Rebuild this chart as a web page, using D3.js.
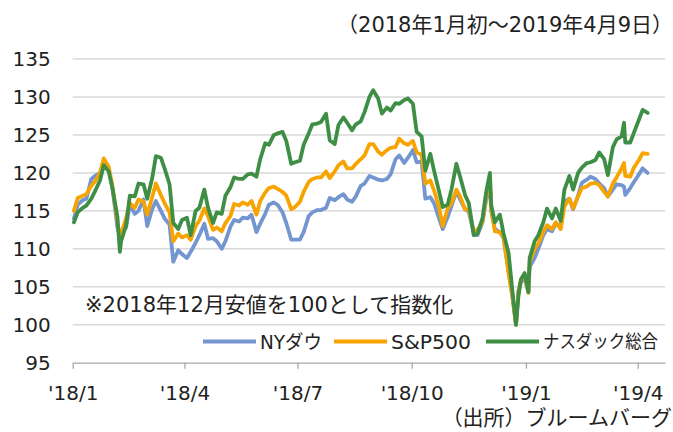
<!DOCTYPE html>
<html>
<head>
<meta charset="utf-8">
<script src="https://cdn.jsdelivr.net/npm/d3@7"></script>
<style>
  body { margin: 0; background: #fff; }
  svg { display: block; }
  text { font-family: "DejaVu Sans", "Noto Sans CJK JP", sans-serif; fill: #222; }
</style>
</head>
<body>
<div id="chart"></div>
<script>
// dates (twice a week, plus a few key days)
const dates = [
  "2018-01-02","2018-01-05","2018-01-09","2018-01-12","2018-01-16","2018-01-19","2018-01-23","2018-01-26","2018-01-30",
  "2018-02-02","2018-02-06","2018-02-08","2018-02-09","2018-02-13","2018-02-16","2018-02-20","2018-02-23","2018-02-27",
  "2018-03-02","2018-03-06","2018-03-09","2018-03-13","2018-03-16","2018-03-20","2018-03-23","2018-03-27","2018-03-30",
  "2018-04-03","2018-04-06","2018-04-10","2018-04-13","2018-04-17","2018-04-20","2018-04-24","2018-04-27",
  "2018-05-01","2018-05-04","2018-05-08","2018-05-11","2018-05-15","2018-05-18","2018-05-22","2018-05-25","2018-05-29",
  "2018-06-01","2018-06-05","2018-06-08","2018-06-12","2018-06-15","2018-06-19","2018-06-22","2018-06-26","2018-06-29",
  "2018-07-03","2018-07-06","2018-07-10","2018-07-13","2018-07-17","2018-07-20","2018-07-24","2018-07-27","2018-07-31",
  "2018-08-03","2018-08-07","2018-08-10","2018-08-14","2018-08-17","2018-08-21","2018-08-24","2018-08-28","2018-08-31",
  "2018-09-04","2018-09-07","2018-09-11","2018-09-14","2018-09-18","2018-09-21","2018-09-25","2018-09-28",
  "2018-10-02","2018-10-05","2018-10-09","2018-10-12","2018-10-16","2018-10-19","2018-10-23","2018-10-26","2018-10-30",
  "2018-11-02","2018-11-06","2018-11-09","2018-11-13","2018-11-16","2018-11-20","2018-11-23","2018-11-27","2018-11-30",
  "2018-12-03","2018-12-04","2018-12-07","2018-12-11","2018-12-14","2018-12-18","2018-12-21","2018-12-24","2018-12-26","2018-12-28","2018-12-31",
  "2019-01-03","2019-01-04","2019-01-08","2019-01-11","2019-01-15","2019-01-18","2019-01-22","2019-01-25","2019-01-29",
  "2019-02-01","2019-02-05","2019-02-08","2019-02-12","2019-02-15","2019-02-19","2019-02-22","2019-02-26",
  "2019-03-01","2019-03-05","2019-03-08","2019-03-12","2019-03-15","2019-03-19","2019-03-21","2019-03-22","2019-03-26","2019-03-29",
  "2019-04-02","2019-04-05","2019-04-09"
];

const dow = [
  114.0, 115.8, 116.4, 116.6, 119.2, 119.6, 120.0, 121.2, 120.4,
  118.0, 112.8, 111.6, 112.0, 112.8, 115.8, 114.6, 115.0, 116.5,
  113.0, 115.2, 116.3, 115.0, 114.0, 113.2, 108.3, 109.8, 109.3,
  108.8, 109.6, 110.8, 111.8, 113.3, 111.3, 111.4, 111.0,
  110.0, 111.0, 112.9, 113.8, 113.6, 114.1, 114.0, 114.5, 112.2,
  113.3, 114.6, 115.8, 116.1, 115.8, 114.8, 113.4, 111.2, 111.2,
  111.2, 112.2, 114.3, 114.8, 115.1, 115.1, 115.4, 116.7, 116.4,
  116.8, 117.2, 116.5, 116.2, 116.9, 118.3, 118.6, 119.6, 119.4,
  119.1, 119.0, 119.2, 119.8, 121.8, 122.3, 121.3, 122.0,
  123.0, 121.4, 121.5, 116.6, 116.8, 116.0, 114.0, 112.6, 114.2,
  115.6, 117.6, 116.5, 115.2, 114.9, 112.0, 111.8, 113.5, 116.5,
  118.3, 115.0, 112.6, 112.2, 111.4, 107.0, 103.9, 100.0, 104.6, 105.6, 106.1,
  104.4, 107.6, 108.8, 110.0, 111.8, 112.6, 112.3, 113.3, 112.9,
  116.2, 116.6, 115.2, 117.0, 118.7, 119.1, 119.5, 119.2,
  118.6, 118.0, 116.9, 117.8, 118.5, 118.4, 118.2, 117.1, 118.0, 118.8,
  119.8, 120.6, 120.0
];

const sp500 = [
  115.0, 116.7, 117.0, 117.2, 118.3, 118.9, 120.0, 121.9, 120.8,
  118.3, 113.5, 111.6, 112.0, 114.0, 116.0, 115.4, 116.5, 116.2,
  114.5, 116.8, 118.6, 117.1, 116.0, 114.8, 111.0, 112.0, 111.5,
  111.8, 111.2, 113.0, 113.7, 115.3, 114.3, 112.5, 112.8,
  112.3, 113.4, 114.3, 115.9, 115.7, 116.1, 115.8, 116.3, 114.5,
  116.3, 117.4, 118.0, 118.2, 117.9, 117.5, 117.0, 115.2, 115.5,
  116.2, 117.5, 118.8, 119.2, 119.4, 119.4, 120.2, 119.3, 120.2,
  121.0, 121.5, 120.6, 120.6, 121.2, 121.8, 122.3, 123.8, 123.8,
  122.8, 122.4, 123.0, 123.3, 123.4, 124.5, 123.9, 123.7,
  124.2, 122.7, 122.4, 118.6, 119.0, 117.7, 115.5, 113.0, 115.3,
  116.0, 117.8, 116.9, 115.2, 115.2, 112.3, 112.5, 113.5, 117.0,
  118.8, 115.3, 112.3, 112.2, 111.5, 106.8, 103.8, 100.0, 104.4, 105.9, 106.4,
  104.2, 108.3, 110.0, 110.7, 112.2, 113.1, 112.6, 113.5, 112.6,
  115.6, 116.6, 115.3, 116.9, 118.0, 118.2, 118.6, 118.7,
  118.4, 117.5, 116.9, 118.6, 119.4, 120.6, 121.3, 119.6, 119.5, 120.7,
  121.7, 122.6, 122.5
];

const nasdaq = [
  113.5, 114.8, 115.4, 115.7, 116.6, 117.6, 119.0, 121.0, 120.2,
  118.0, 114.2, 109.6, 111.0, 113.1, 117.0, 116.9, 118.6, 118.5,
  116.6, 119.3, 122.2, 122.0, 120.6, 118.5, 113.4, 112.6, 113.8,
  114.1, 111.8, 115.0, 115.4, 117.8, 115.4, 113.4, 114.8,
  114.6, 117.0, 118.1, 119.4, 119.2, 119.2, 119.8, 119.9, 119.5,
  121.8, 123.9, 123.7, 125.0, 125.2, 125.4, 124.2, 121.2, 121.4,
  121.6, 123.7, 125.2, 126.4, 126.5, 126.7, 127.8, 124.3, 123.8,
  126.3, 127.3, 126.6, 125.6, 126.4, 126.8, 128.0, 130.0, 130.9,
  129.8, 127.8, 128.6, 128.2, 129.2, 129.1, 129.6, 129.8,
  129.1, 125.4, 124.8, 120.3, 122.5, 120.3, 117.6, 115.5, 115.8,
  117.8, 121.2, 119.5, 117.1, 116.0, 111.8, 112.0, 114.0, 117.5,
  120.0, 115.8, 113.5, 114.5, 112.0, 109.5, 104.6, 100.0, 103.8, 106.0, 106.8,
  104.3, 108.8, 111.0, 111.8, 113.5, 115.3, 114.0, 115.3, 113.7,
  117.8, 119.6, 117.8, 120.0, 120.7, 121.3, 121.4, 121.7,
  122.7, 121.8, 119.7, 123.4, 124.4, 124.8, 126.6, 124.0, 124.0, 125.3,
  127.0, 128.3, 127.9
];

const seriesNames = ["NYダウ", "S&P500", "ナスダック総合"];
const seriesColors = ["#7396d0", "#f7a400", "#3e8f45"];

const yTicks = [95, 100, 105, 110, 115, 120, 125, 130, 135];
const xTickDates = ["2018-01-01", "2018-04-01", "2018-07-01", "2018-10-01", "2019-01-01", "2019-04-01"];
const xTickLabels = ["'18/1", "'18/4", "'18/7", "'18/10", "'19/1", "'19/4"];

const titleText = "（2018年1月初～2019年4月9日）";
const noteText = "※2018年12月安値を100として指数化";
const sourceText = "（出所）ブルームバーグ";

const width = 673;
const height = 432;
const margin = { top: 59, right: 8, bottom: 69.3, left: 72.7 };

const parseDate = d3.utcParse("%Y-%m-%d");

const svg = d3
  .select("#chart")
  .append("svg")
  .attr("width", width)
  .attr("height", height);

const xScale = d3
  .scaleUtc()
  .domain([parseDate("2018-01-01"), parseDate("2019-04-23")])
  .range([margin.left, width - margin.right]);

const yScale = d3
  .scaleLinear()
  .domain([95, 135])
  .range([height - margin.bottom, margin.top]);

// gridlines
svg
  .append("g")
  .selectAll("line")
  .data(yTicks.filter((t) => t > 95))
  .enter()
  .append("line")
  .attr("x1", margin.left)
  .attr("x2", width - margin.right)
  .attr("y1", (d) => yScale(d))
  .attr("y2", (d) => yScale(d))
  .attr("stroke", "#d9d9d9")
  .attr("stroke-width", 1.5);

// y axis labels
const yAxis = svg
  .append("g")
  .attr("transform", `translate(${margin.left},0)`)
  .call(d3.axisLeft(yScale).tickValues(yTicks).tickSize(0).tickPadding(22));
yAxis.select(".domain").remove();
yAxis
  .selectAll("text")
  .style("font-size", "20px")
  .style("font-family", "'DejaVu Sans', sans-serif")
  .attr("fill", "#222");

// x axis
const xAxis = svg
  .append("g")
  .attr("transform", `translate(0,${yScale(95)})`)
  .call(
    d3
      .axisBottom(xScale)
      .tickValues(xTickDates.map(parseDate))
      .tickFormat((d, i) => xTickLabels[i])
      .tickSize(6)
      .tickSizeOuter(0)
      .tickPadding(17)
  );
xAxis.select(".domain").attr("stroke", "#a6a6a6").attr("stroke-width", 1.3);
xAxis.selectAll(".tick line").attr("stroke", "#a6a6a6").attr("stroke-width", 1.3);
xAxis
  .selectAll("text")
  .style("font-size", "20px")
  .style("font-family", "'DejaVu Sans', sans-serif")
  .attr("fill", "#222");

// series lines
const allSeries = [dow, sp500, nasdaq].map((values, i) => ({
  name: seriesNames[i],
  color: seriesColors[i],
  points: dates.map((d, j) => ({ date: parseDate(d), value: values[j] })),
}));

const line = d3
  .line()
  .x((d) => xScale(d.date))
  .y((d) => yScale(d.value));

svg
  .append("g")
  .selectAll("path")
  .data(allSeries)
  .enter()
  .append("path")
  .attr("d", (d) => line(d.points))
  .attr("fill", "none")
  .attr("stroke", (d) => d.color)
  .attr("stroke-width", 3.8)
  .attr("stroke-linejoin", "round")
  .attr("stroke-linecap", "round");

// title, note, source
svg
  .append("text")
  .attr("x", 673)
  .attr("y", 25)
  .attr("text-anchor", "end")
  .attr("dominant-baseline", "central")
  .style("font-size", "21px")
  .text(titleText);

svg
  .append("text")
  .attr("x", 85)
  .attr("y", 305)
  .attr("dominant-baseline", "central")
  .style("font-size", "21px")
  .text(noteText);

svg
  .append("text")
  .attr("x", 672)
  .attr("y", 418)
  .attr("text-anchor", "end")
  .attr("dominant-baseline", "central")
  .style("font-size", "21px")
  .text(sourceText);

// legend
const legendX = [203, 334, 486];
const legendTextWidth = [62, 80, 115];
const legendFontSize = [19, 20, 18];
const legend = svg
  .append("g")
  .selectAll("g")
  .data(allSeries)
  .enter()
  .append("g")
  .attr("transform", (d, i) => `translate(${legendX[i]},341.5)`);

legend
  .append("line")
  .attr("x1", 0)
  .attr("x2", 53)
  .attr("stroke", (d) => d.color)
  .attr("stroke-width", 3.8);

legend
  .append("text")
  .attr("x", 57)
  .attr("dominant-baseline", "central")
  .attr("textLength", (d, i) => legendTextWidth[i])
  .attr("lengthAdjust", "spacingAndGlyphs")
  .style("font-size", (d, i) => `${legendFontSize[i]}px`)
  .text((d) => d.name);
</script>
</body>
</html>
